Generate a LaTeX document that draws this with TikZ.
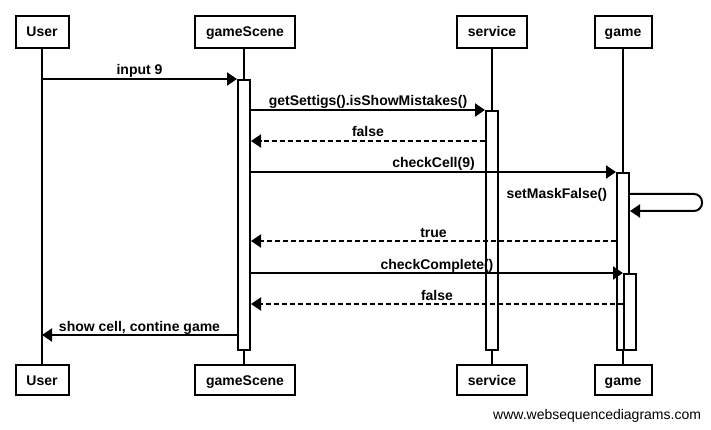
\documentclass[tikz,border=0pt]{standalone}
\usepackage{fontspec}
\setmainfont{Liberation Sans}
\usetikzlibrary{arrows.meta}

\tikzset{
  actor/.style={draw, fill=white, minimum height=32pt, inner sep=0pt,
    text height=10pt, text depth=0pt,
    font=\fontsize{14pt}{16pt}\selectfont\bfseries},
  bar/.style={draw, fill=white, minimum width=12pt, inner sep=0pt, anchor=north},
  msg/.style={draw, -{Triangle[length=10pt,width=13pt]}},
  reply/.style={msg, dash pattern=on 5pt off 3pt},
  lbl/.style={above, inner sep=0pt, yshift=3pt, text depth=0pt,
    font=\fontsize{14pt}{16pt}\selectfont\bfseries}
}

\begin{document}
\begin{tikzpicture}[x=1pt,y=-1pt,line width=2pt]
  \useasboundingbox (0,0) rectangle (711,430);

  \begin{scope}[every node/.style={actor}]
    \node[minimum width=53pt]  (userTop)    at (42,32)   {User};
    \node[minimum width=100pt] (sceneTop)   at (245,32)  {gameScene};
    \node[minimum width=70pt]  (serviceTop) at (492,32)  {service};
    \node[minimum width=57pt]  (gameTop)    at (623,32)  {game};
    \node[minimum width=53pt, minimum height=30pt]  (userBot)    at (42,380)  {User};
    \node[minimum width=100pt, minimum height=30pt] (sceneBot)   at (245,380) {gameScene};
    \node[minimum width=70pt, minimum height=30pt]  (serviceBot) at (492,380) {service};
    \node[minimum width=57pt, minimum height=30pt]  (gameBot)    at (623,380) {game};
  \end{scope}

  \draw (userTop.south) -- (userBot.north);
  \draw (sceneTop.south -| 244,0) -- (sceneBot.north -| 244,0);
  \draw (serviceTop.south) -- (serviceBot.north);
  \draw (gameTop.south) -- (gameBot.north);

  \foreach \n/\y in {1/79,2/110,3/141,4/172,5/194,6/211,7/241,8/273,9/304,10/335}
    \coordinate (r\n) at (0,\y);

  \begin{scope}[every node/.style={bar}]
    \node[minimum height=270pt] (sceneBar)   at (244,79)  {};
    \node[minimum height=239pt] (serviceBar) at (492,110) {};
    \node[minimum height=177pt] (gameBar)    at (623,172) {};
    \node[minimum height=76pt]  (gameBarB)   at (630,273) {};
  \end{scope}

  \path (userTop |- r1)       edge[msg]   node[lbl] {input 9} (sceneBar.west |- r1);
  \path (sceneBar.east |- r2) edge[msg]   node[lbl] {getSettigs().isShowMistakes()} (serviceBar.west |- r2);
  \path (serviceBar.west |- r3) edge[reply] node[lbl] {false} (sceneBar.east |- r3);
  \path (sceneBar.east |- r4) edge[msg]   node[lbl] {checkCell(9)} (gameBar.west |- r4);
  \draw[msg, rounded corners=8pt] (gameBar.east |- r5) -- ++(72,0) -- ++(0,17) -- (gameBar.east |- r6);
  \node[anchor=east, inner sep=0pt, xshift=-8pt, text height=10pt, text depth=0pt,
    font=\fontsize{14pt}{16pt}\selectfont\bfseries] (maskLbl) at (gameBar.west |- r5) {setMaskFalse()};
  \path (gameBar.west |- r7)  edge[reply] node[lbl] {true} (sceneBar.east |- r7);
  \path (sceneBar.east |- r8) edge[msg]   node[lbl] {checkComplete()} (gameBarB.west |- r8);
  \path (gameBarB.west |- r9) edge[reply] node[lbl] {false} (sceneBar.east |- r9);
  \path (sceneBar.west |- r10) edge[msg]  node[lbl] {show cell, contine game} (userTop |- r10);

  \node[anchor=base east, inner sep=0pt, font=\fontsize{14pt}{16pt}\selectfont] (mark) at (702,419) {www.websequencediagrams.com};

\end{tikzpicture}
\end{document}
